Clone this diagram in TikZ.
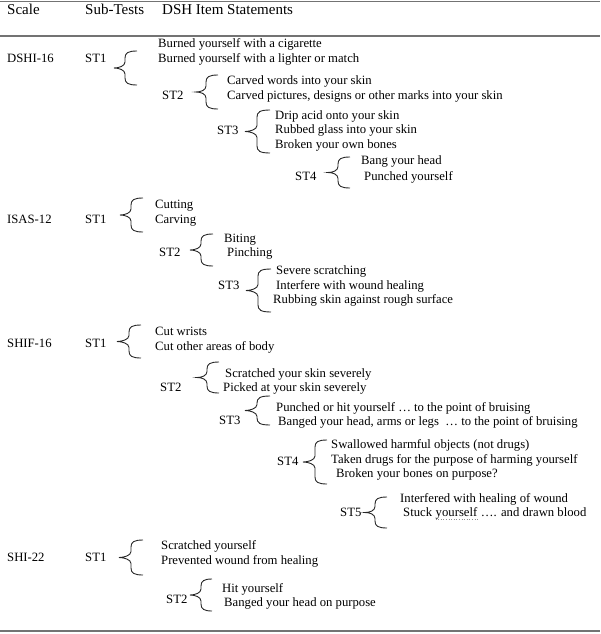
\documentclass[tikz,border=0pt]{standalone}
\usepackage{fontspec}
\setmainfont{Liberation Serif}
\begin{document}
\begin{tikzpicture}[x=1pt,y=-1pt,
  hdr/.style={anchor=base west, inner sep=0pt, font=\fontsize{15}{18}\selectfont},
  lbl/.style={anchor=base west, inner sep=0pt, font=\fontsize{12.7}{15}\selectfont},
  rulestyle/.style={draw=black!55, line width=1.5pt},
  bracestyle/.style={draw=black!85, line width=0.9pt},
  squiggle/.style={draw=black!45, line width=0.6pt, dotted}]
\useasboundingbox (0,0) rectangle (600,634);
\newcommand{\wbrace}[5]{%
  \pgfmathsetmacro\bm{(#4+#5)/2}%
  \draw[bracestyle] (#3,#4) .. controls (#2+3,#4) and (#2,#4+2) .. (#2,#4+7)
    -- (#2,\bm-6) .. controls (#2,\bm-2) and (#1+5,\bm) .. (#1,\bm)
    .. controls (#1+5,\bm) and (#2,\bm+2) .. (#2,\bm+6)
    -- (#2,#5-7) .. controls (#2,#5-2) and (#2+3,#5) .. (#3,#5);
}
% rules
\coordinate (r1a) at (0,1.5);   \coordinate (r1b) at (600,1.5);
\coordinate (r2a) at (0,36);    \coordinate (r2b) at (600,36);
\coordinate (r3a) at (0,631);   \coordinate (r3b) at (600,631);
\draw[rulestyle] (r1a) -- (r1b);
\draw[rulestyle] (r2a) -- (r2b);
\draw[rulestyle] (r3a) -- (r3b);
% header
\node[hdr] (h1) at (7,15) {Scale};
\node[hdr] (h2) at (85,15) {Sub-Tests};
\node[hdr] (h3) at (162,15) {DSH Item Statements};
% DSHI-16
\node[lbl] (s1) at (7,62.5) {DSHI-16};
\node[lbl] (s1t1) at (85,62.5) {ST1};
\wbrace{114}{125}{137}{51}{85}
\node[lbl] (a1) at (158,48) {Burned yourself with a cigarette};
\node[lbl] (a2) at (158,62.5) {Burned yourself with a lighter or match};
\node[lbl] (s1t2) at (162,99.5) {ST2};
\wbrace{196}{206}{218}{75}{109}
\node[lbl] (a3) at (227,84.5) {Carved words into your skin};
\node[lbl] (a4) at (227,99.5) {Carved pictures, designs or other marks into your skin};
\node[lbl] (s1t3) at (217,134.5) {ST3};
\wbrace{245}{257}{270}{110}{153}
\node[lbl] (a5) at (275,119.5) {Drip acid onto your skin};
\node[lbl] (a6) at (275,133.5) {Rubbed glass into your skin};
\node[lbl] (a7) at (275,148) {Broken your own bones};
\node[lbl] (s1t4) at (295,180) {ST4};
\wbrace{328}{338}{350}{157}{188}
\node[lbl] (a8) at (361,164.5) {Bang your head};
\node[lbl] (a9) at (364,180) {Punched yourself};
% ISAS-12
\node[lbl] (s2) at (7,223.5) {ISAS-12};
\node[lbl] (s2t1) at (85,223.5) {ST1};
\wbrace{120}{131}{143}{198}{232}
\node[lbl] (b1) at (155,208.5) {Cutting};
\node[lbl] (b2) at (155,223.5) {Carving};
\node[lbl] (s2t2) at (159,256.5) {ST2};
\wbrace{190}{201}{213}{234}{266}
\node[lbl] (b3) at (224,242) {Biting};
\node[lbl] (b4) at (227,256.5) {Pinching};
\node[lbl] (s2t3) at (218,289.5) {ST3};
\wbrace{246}{258}{271}{269}{312}
\node[lbl] (b5) at (276,274.5) {Severe scratching};
\node[lbl] (b6) at (276,289.5) {Interfere with wound healing};
\node[lbl] (b7) at (273,303.5) {Rubbing skin against rough surface};
% SHIF-16
\node[lbl] (s3) at (7,347.5) {SHIF-16};
\node[lbl] (s3t1) at (85,347.5) {ST1};
\wbrace{117}{129}{141}{325}{358}
\node[lbl] (c1) at (155,335.5) {Cut wrists};
\node[lbl] (c2) at (155,350.5) {Cut other areas of body};
\node[lbl] (s3t2) at (160,391.5) {ST2};
\wbrace{197}{207}{219}{362}{393}
\node[lbl] (c3) at (225,377) {Scratched your skin severely};
\node[lbl] (c4) at (223,391.5) {Picked at your skin severely};
\node[lbl] (s3t3) at (219,424.5) {ST3};
\wbrace{245}{257}{270}{396}{425}
\node[lbl] (c5) at (276,411) {Punched or hit yourself … to the point of bruising};
\node[lbl] (c6) at (278,425) {Banged your head, arms or legs \ … to the point of bruising};
\node[lbl] (s3t4) at (277,465.5) {ST4};
\wbrace{303}{315}{327}{440}{484}
\node[lbl] (c7) at (331,448.5) {Swallowed harmful objects (not drugs)};
\node[lbl] (c8) at (331,463.5) {Taken drugs for the purpose of harming yourself};
\node[lbl] (c9) at (336,477.5) {Broken your bones on purpose?};
\node[lbl] (s3t5) at (340,516.5) {ST5};
\wbrace{365}{375}{387}{497}{528}
\node[lbl] (c10) at (400,502.5) {Interfered with healing of wound};
\node[lbl] (c11a) at (403,516.5) {Stuck};
\node[lbl] (c11b) at ([xshift=3.2pt]c11a.base east) {yourself};
\node[lbl] (c11c) at (c11b.base east) {\ …. and drawn blood};
\draw[squiggle] ([yshift=-2.5pt]c11b.base west) -- ([yshift=-2.5pt]c11b.base east);
% SHI-22
\node[lbl] (s4) at (7,561.5) {SHI-22};
\node[lbl] (s4t1) at (85,561.5) {ST1};
\wbrace{119}{131}{143}{540}{575}
\node[lbl] (d1) at (161,549.5) {Scratched yourself};
\node[lbl] (d2) at (161,564.5) {Prevented wound from healing};
\node[lbl] (s4t2) at (166,603.5) {ST2};
\wbrace{190}{201}{212}{579}{611}
\node[lbl] (d3) at (222,592.5) {Hit yourself};
\node[lbl] (d4) at (224,606) {Banged your head on purpose};
\end{tikzpicture}
\end{document}
